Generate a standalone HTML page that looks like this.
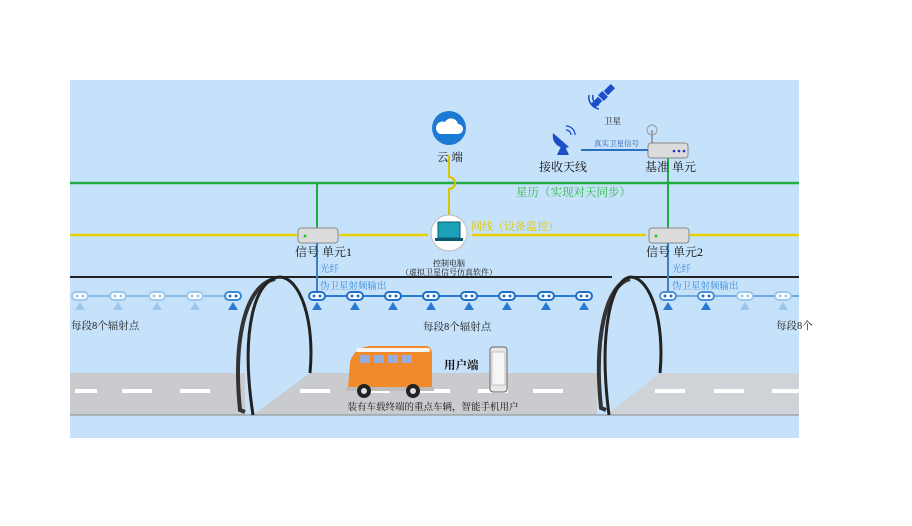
<!DOCTYPE html>
<html><head><meta charset="utf-8"><style>
body{margin:0;background:#fff;width:912px;height:526px;overflow:hidden}
svg{display:block}
text{font-family:"Liberation Serif","Noto Serif CJK SC","Noto Sans CJK SC",serif}
</style></head><body>
<svg width="912" height="526" viewBox="0 0 912 526">
<rect x="70" y="80" width="729" height="358" fill="#c6e2fb"/>
<!-- roads -->
<polygon points="70,373 245,373 245,415 70,415" fill="#c9cbce"/>
<polygon points="310,373 597,373 597,415 253,415" fill="#c9cbce"/>
<polygon points="660,373 799,373 799,415 606,415" fill="#cfd2d6"/>
<g fill="#fff">
<rect x="75" y="389" width="22" height="4"/><rect x="122" y="389" width="30" height="4"/><rect x="180" y="389" width="30" height="4"/>
<rect x="300" y="389" width="30" height="4"/><rect x="360" y="389" width="30" height="4"/><rect x="420" y="389" width="30" height="4"/><rect x="478" y="389" width="30" height="4"/><rect x="533" y="389" width="30" height="4"/>
<rect x="655" y="389" width="30" height="4"/><rect x="714" y="389" width="30" height="4"/><rect x="772" y="389" width="27" height="4"/>
</g>
<line x1="70" y1="415" x2="799" y2="415" fill="none" stroke="#888" stroke-width="1"/>
<!-- tunnel top line -->
<line x1="70" y1="277" x2="280" y2="277" stroke="#222" stroke-width="2"/>
<line x1="280" y1="277" x2="612" y2="277" stroke="#222" stroke-width="2"/>
<line x1="630" y1="277" x2="799" y2="277" stroke="#222" stroke-width="2"/>
<!-- tunnel arches -->
<path d="M245,412 L240,410 C233,340 245,285 275,279" fill="none" stroke="#333" stroke-width="4"/>
<path d="M253,415 C240,330 255,278 280,277 C300,278 315,320 310,373" fill="none" stroke="#222" stroke-width="3"/>
<path d="M606,410 L601,408 C594,340 605,285 630,279" fill="none" stroke="#333" stroke-width="4"/>
<path d="M609,415 C598,330 612,278 631,277 C650,278 665,320 660,373" fill="none" stroke="#222" stroke-width="3"/>
<!-- green line -->
<line x1="70" y1="183" x2="799" y2="183" stroke="#22aa44" stroke-width="2.5"/>
<line x1="317" y1="183" x2="317" y2="230" stroke="#22aa44" stroke-width="2"/>
<line x1="668" y1="157" x2="668" y2="230" stroke="#22aa44" stroke-width="2"/>
<text x="516" y="196" font-size="11.5" fill="#33bb44">星历（实现对天同步）</text>
<!-- yellow line -->
<line x1="70" y1="235" x2="297" y2="235" stroke="#e8d000" stroke-width="2.5"/>
<line x1="339" y1="235" x2="428" y2="235" stroke="#e8d000" stroke-width="2.5"/>
<line x1="472" y1="235" x2="646" y2="235" stroke="#e8d000" stroke-width="2.5"/>
<line x1="690" y1="235" x2="799" y2="235" stroke="#e8d000" stroke-width="2.5"/>
<text x="471" y="230" font-size="11" fill="#e0c800">网线（设备监控）</text>
<!-- cloud to pc -->
<path d="M449,155 L449,177 A6,6 0 0 1 449,189 L449,215" fill="none" stroke="#d8c400" stroke-width="2"/>
<circle cx="449" cy="128" r="17" fill="#1a7ad4"/>
<path d="M440,134 h18 a5,5 0 0 0 0,-10 a7,7 0 0 0 -13,-2 a5,5 0 0 0 -5,12z" fill="#fff"/>
<text x="437" y="161" font-size="11.5" fill="#111">云 端</text>
<circle cx="449" cy="233" r="18" fill="#fff" stroke="#bbb"/>
<rect x="438" y="222" width="22" height="16" fill="#1aa3b8" stroke="#0b5a70"/>
<rect x="435" y="238" width="28" height="3" fill="#0b5a70"/>
<text x="449" y="266" font-size="8" fill="#111" text-anchor="middle">控制电脑</text>
<text x="449" y="275" font-size="8" fill="#111" text-anchor="middle">（虚拟卫星信号仿真软件）</text>
<!-- signal unit 1 -->
<rect x="298" y="228" width="40" height="15" rx="3" fill="#dcdcdc" stroke="#888"/>
<circle cx="305" cy="236" r="1.5" fill="#2c2"/>
<line x1="317" y1="243" x2="317" y2="296" stroke="#3a7fc8" stroke-width="2"/>
<text x="295" y="256" font-size="12" fill="#111">信号 单元1</text>
<text x="320" y="272" font-size="9.5" fill="#3a8ad8">光纤</text>
<text x="320" y="289" font-size="9.5" fill="#3a8ad8">伪卫星射频输出</text>
<!-- signal unit 2 -->
<rect x="649" y="228" width="40" height="15" rx="3" fill="#dcdcdc" stroke="#888"/>
<circle cx="656" cy="236" r="1.5" fill="#2c2"/>
<line x1="668" y1="243" x2="668" y2="296" stroke="#3a7fc8" stroke-width="2"/>
<text x="646" y="256" font-size="12" fill="#111">信号 单元2</text>
<text x="672" y="272" font-size="9.5" fill="#3a8ad8">光纤</text>
<text x="672" y="289" font-size="9.5" fill="#3a8ad8">伪卫星射频输出</text>
<!-- base unit -->
<rect x="648" y="143" width="40" height="15" rx="3" fill="#dcdcdc" stroke="#888"/>
<circle cx="674" cy="151" r="1.3" fill="#23c"/><circle cx="679" cy="151" r="1.3" fill="#23c"/><circle cx="684" cy="151" r="1.3" fill="#23c"/>
<line x1="652" y1="130" x2="652" y2="143" stroke="#666"/>
<circle cx="652" cy="130" r="5" fill="none" stroke="#999"/>
<text x="645" y="171" font-size="12" fill="#111">基准 单元</text>
<line x1="581" y1="150" x2="648" y2="150" stroke="#2a6fc0" stroke-width="2"/>
<text x="594" y="146" font-size="7.5" fill="#2a5fb0">真实卫星信号</text>
<!-- satellite -->
<g transform="translate(603,96) rotate(45)" fill="#1a4fc8"><rect x="-3" y="-14" width="6" height="10"/><rect x="-3" y="4" width="6" height="10"/><rect x="-4" y="-3" width="8" height="6"/></g>
<path d="M593,95 a8,8 0 0 0 6,10 M589,95 a12,12 0 0 0 10,14" fill="none" stroke="#1a4fc8" stroke-width="1.5"/>
<text x="604" y="124" font-size="8.5" fill="#111">卫星</text>
<!-- dish -->
<path d="M553,133 a12,12 0 0 0 16,14z" fill="#1a4fc8"/>
<polygon points="557,155 563,142 569,155" fill="#1a4fc8"/>
<path d="M566,130 a5,5 0 0 1 5,5 M566,126 a9,9 0 0 1 9,9" fill="none" stroke="#1a4fc8" stroke-width="1.3"/>
<text x="539" y="171" font-size="12" fill="#111">接收天线</text>
<!-- radiators -->
<line x1="80" y1="296" x2="233" y2="296" stroke="#8bbde8" stroke-width="2"/>
<line x1="317" y1="296" x2="590" y2="296" stroke="#2a7ad0" stroke-width="2"/>
<line x1="668" y1="296" x2="799" y2="296" stroke="#6aaae0" stroke-width="2"/>
<g fill="#fff" stroke-width="2">
<g stroke="#9cc6ec"><rect x="72" y="292" width="16" height="8" rx="4"/><rect x="110" y="292" width="16" height="8" rx="4"/><rect x="149" y="292" width="16" height="8" rx="4"/><rect x="187" y="292" width="16" height="8" rx="4"/></g>
<g stroke="#3a88d8"><rect x="225" y="292" width="16" height="8" rx="4"/></g>
<g stroke="#1f6fc8"><rect x="309" y="292" width="16" height="8" rx="4"/><rect x="347" y="292" width="16" height="8" rx="4"/><rect x="385" y="292" width="16" height="8" rx="4"/><rect x="423" y="292" width="16" height="8" rx="4"/><rect x="461" y="292" width="16" height="8" rx="4"/><rect x="499" y="292" width="16" height="8" rx="4"/><rect x="538" y="292" width="16" height="8" rx="4"/><rect x="576" y="292" width="16" height="8" rx="4"/></g>
<g stroke="#4a90d8"><rect x="660" y="292" width="16" height="8" rx="4"/><rect x="698" y="292" width="16" height="8" rx="4"/></g>
<g stroke="#9cc6ec"><rect x="737" y="292" width="16" height="8" rx="4"/><rect x="775" y="292" width="16" height="8" rx="4"/></g>
</g>
<g fill="#1f6fc8">
<circle cx="314" cy="296" r="1.5"/><circle cx="320" cy="296" r="1.5"/><circle cx="352" cy="296" r="1.5"/><circle cx="358" cy="296" r="1.5"/><circle cx="390" cy="296" r="1.5"/><circle cx="396" cy="296" r="1.5"/><circle cx="428" cy="296" r="1.5"/><circle cx="434" cy="296" r="1.5"/><circle cx="466" cy="296" r="1.5"/><circle cx="472" cy="296" r="1.5"/><circle cx="504" cy="296" r="1.5"/><circle cx="510" cy="296" r="1.5"/><circle cx="543" cy="296" r="1.5"/><circle cx="549" cy="296" r="1.5"/><circle cx="581" cy="296" r="1.5"/><circle cx="587" cy="296" r="1.5"/>
<circle cx="230" cy="296" r="1.5"/><circle cx="236" cy="296" r="1.5"/><circle cx="665" cy="296" r="1.5"/><circle cx="671" cy="296" r="1.5"/><circle cx="703" cy="296" r="1.5"/><circle cx="709" cy="296" r="1.5"/>
</g>
<g fill="#9cc6ec">
<circle cx="77" cy="296" r="1.5"/><circle cx="83" cy="296" r="1.5"/><circle cx="115" cy="296" r="1.5"/><circle cx="121" cy="296" r="1.5"/><circle cx="154" cy="296" r="1.5"/><circle cx="160" cy="296" r="1.5"/><circle cx="192" cy="296" r="1.5"/><circle cx="198" cy="296" r="1.5"/><circle cx="742" cy="296" r="1.5"/><circle cx="748" cy="296" r="1.5"/><circle cx="780" cy="296" r="1.5"/><circle cx="786" cy="296" r="1.5"/>
</g>
<g fill="#2a7ad0">
<polygon points="312,310 317,302 322,310"/><polygon points="350,310 355,302 360,310"/><polygon points="388,310 393,302 398,310"/><polygon points="426,310 431,302 436,310"/><polygon points="464,310 469,302 474,310"/><polygon points="502,310 507,302 512,310"/><polygon points="541,310 546,302 551,310"/><polygon points="579,310 584,302 589,310"/>
<polygon points="663,310 668,302 673,310"/><polygon points="701,310 706,302 711,310"/><polygon points="228,310 233,302 238,310"/>
</g>
<g fill="#9cc6ec">
<polygon points="75,310 80,302 85,310"/><polygon points="113,310 118,302 123,310"/><polygon points="152,310 157,302 162,310"/><polygon points="190,310 195,302 200,310"/><polygon points="740,310 745,302 750,310"/><polygon points="778,310 783,302 788,310"/>
</g>
<text x="71" y="329" font-size="10.5" fill="#222">每段8个辐射点</text>
<text x="423" y="330" font-size="10.5" fill="#222">每段8个辐射点</text>
<text x="776" y="329" font-size="10.5" fill="#222">每段8个</text>
<!-- bus -->
<path d="M350,362 Q355,346 372,346 L426,346 Q432,346 432,355 L432,390 L348,390 Z" fill="#f08a2a"/>
<rect x="356" y="348" width="74" height="4" rx="2" fill="#f4f4f4"/>
<rect x="360" y="355" width="10" height="8" fill="#9ad"/><rect x="374" y="355" width="10" height="8" fill="#9ad"/><rect x="388" y="355" width="10" height="8" fill="#9ad"/><rect x="402" y="355" width="10" height="8" fill="#9ad"/>
<rect x="346" y="387" width="88" height="4" fill="#bbb"/>
<circle cx="364" cy="391" r="7" fill="#222"/><circle cx="364" cy="391" r="3" fill="#ddd"/>
<circle cx="413" cy="391" r="7" fill="#222"/><circle cx="413" cy="391" r="3" fill="#ddd"/>
<!-- phone -->
<rect x="490" y="347" width="17" height="45" rx="3" fill="#e8e8e8" stroke="#666"/>
<rect x="492" y="352" width="13" height="33" fill="#f6f6f6" stroke="#999" stroke-width="0.5"/>
<text x="444" y="369" font-size="11.5" font-weight="bold" fill="#111">用户端</text>
<text x="433" y="410" font-size="9.5" fill="#111" text-anchor="middle">装有车载终端的重点车辆，智能手机用户</text>
</svg>
</body></html>
